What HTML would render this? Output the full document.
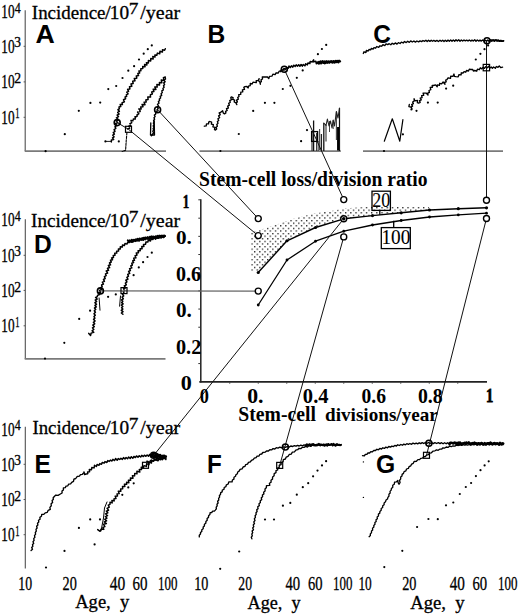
<!DOCTYPE html>
<html><head><meta charset="utf-8"><style>
html,body{margin:0;padding:0;background:#fff;width:520px;height:614px;overflow:hidden;}
svg{display:block;}
</style></head><body>
<svg width="520" height="614" viewBox="0 0 520 614">
<defs><pattern id="dp" x="254.0" y="240.75" width="5.2" height="5.2" patternUnits="userSpaceOnUse"><rect x="0" y="0" width="1.3" height="1.3" fill="#1a1a1a"/><rect x="2.6" y="2.6" width="1.3" height="1.3" fill="#1a1a1a"/></pattern></defs>
<rect width="520" height="614" fill="#fff"/>
<line x1="25.2" y1="10.3" x2="25.2" y2="151" stroke="#505050" stroke-width="1.1"/>
<line x1="24.7" y1="151.1" x2="166" y2="151.1" stroke="#7a7a7a" stroke-width="1.8"/>
<line x1="199.5" y1="151.1" x2="340.8" y2="151.1" stroke="#7a7a7a" stroke-width="1.8"/>
<line x1="363" y1="151.1" x2="503" y2="151.1" stroke="#7a7a7a" stroke-width="1.8"/>
<line x1="25.3" y1="219.3" x2="25.3" y2="358.9" stroke="#505050" stroke-width="1.1"/>
<line x1="24.7" y1="358.9" x2="165.5" y2="358.9" stroke="#7a7a7a" stroke-width="1.8"/>
<line x1="25.3" y1="426.8" x2="25.3" y2="568.5" stroke="#505050" stroke-width="1.1"/>
<line x1="200.8" y1="199.3" x2="200.8" y2="382.5" stroke="#222" stroke-width="1.5"/>
<line x1="199.3" y1="381.9" x2="487.0" y2="381.9" stroke="#222" stroke-width="1.9"/>
<line x1="198.3" y1="363.575" x2="200.5" y2="363.575" stroke="#333" stroke-width="1.0"/>
<line x1="198.3" y1="345.4" x2="200.5" y2="345.4" stroke="#333" stroke-width="1.0"/>
<line x1="198.3" y1="327.225" x2="200.5" y2="327.225" stroke="#333" stroke-width="1.0"/>
<line x1="198.3" y1="309.05" x2="200.5" y2="309.05" stroke="#333" stroke-width="1.0"/>
<line x1="198.3" y1="290.875" x2="200.5" y2="290.875" stroke="#333" stroke-width="1.0"/>
<line x1="198.3" y1="272.7" x2="200.5" y2="272.7" stroke="#333" stroke-width="1.0"/>
<line x1="198.3" y1="254.52499999999998" x2="200.5" y2="254.52499999999998" stroke="#333" stroke-width="1.0"/>
<line x1="198.3" y1="236.35" x2="200.5" y2="236.35" stroke="#333" stroke-width="1.0"/>
<line x1="198.3" y1="218.17499999999998" x2="200.5" y2="218.17499999999998" stroke="#333" stroke-width="1.0"/>
<line x1="198.3" y1="199.8" x2="200.8" y2="199.8" stroke="#333" stroke-width="1.0"/>
<line x1="229.75" y1="382" x2="229.75" y2="383.8" stroke="#444" stroke-width="0.9"/>
<line x1="258.25" y1="382" x2="258.25" y2="383.8" stroke="#444" stroke-width="0.9"/>
<line x1="286.75" y1="382" x2="286.75" y2="383.8" stroke="#444" stroke-width="0.9"/>
<line x1="315.25" y1="382" x2="315.25" y2="383.8" stroke="#444" stroke-width="0.9"/>
<line x1="343.75" y1="382" x2="343.75" y2="383.8" stroke="#444" stroke-width="0.9"/>
<line x1="372.25" y1="382" x2="372.25" y2="383.8" stroke="#444" stroke-width="0.9"/>
<line x1="400.75" y1="382" x2="400.75" y2="383.8" stroke="#444" stroke-width="0.9"/>
<line x1="429.25" y1="382" x2="429.25" y2="383.8" stroke="#444" stroke-width="0.9"/>
<line x1="457.75" y1="382" x2="457.75" y2="383.8" stroke="#444" stroke-width="0.9"/>
<line x1="23.6" y1="46.3" x2="25.2" y2="46.3" stroke="#555" stroke-width="1.0"/>
<line x1="23.6" y1="81.9" x2="25.2" y2="81.9" stroke="#555" stroke-width="1.0"/>
<line x1="23.6" y1="117.3" x2="25.2" y2="117.3" stroke="#555" stroke-width="1.0"/>
<line x1="23.6" y1="255.3" x2="25.2" y2="255.3" stroke="#555" stroke-width="1.0"/>
<line x1="23.6" y1="290.4" x2="25.2" y2="290.4" stroke="#555" stroke-width="1.0"/>
<line x1="23.6" y1="325.8" x2="25.2" y2="325.8" stroke="#555" stroke-width="1.0"/>
<line x1="23.6" y1="464.3" x2="25.2" y2="464.3" stroke="#555" stroke-width="1.0"/>
<line x1="23.6" y1="499.5" x2="25.2" y2="499.5" stroke="#555" stroke-width="1.0"/>
<line x1="23.6" y1="534.7" x2="25.2" y2="534.7" stroke="#555" stroke-width="1.0"/>
<polyline points="111.3,141.9 111.4,140.0 113.7,139.6 112.5,137.9 114.1,136.9 112.8,135.2 114.4,134.2 113.3,132.5 115.0,131.4 114.1,129.6 115.8,128.4 115.0,126.6 116.6,125.6 115.6,123.5 117.8,122.6 116.6,121.0 118.3,119.5 116.4,117.8 118.5,116.7 117.1,115.1 119.1,114.0 117.7,112.4 119.4,111.3 117.9,109.7 119.3,108.8 119.0,107.0 120.8,106.6 120.2,104.4 122.4,104.6 122.1,102.8 124.4,101.9 123.5,99.7 125.6,98.8 125.1,97.0 126.7,96.4 126.3,94.8 128.1,93.9 126.8,92.2 128.6,91.3 127.6,89.3 129.9,88.9 129.5,86.7 131.8,86.3 131.0,84.0 133.2,83.5 132.7,81.3 135.0,80.8 134.3,78.5 136.8,78.2 136.3,76.0 138.6,75.5 137.8,73.5 139.7,73.0 138.9,71.0 140.9,70.7 140.8,68.7 142.8,68.6 142.7,66.6 145.1,66.8 144.6,64.6 146.9,64.9 146.4,62.7 148.4,62.9 148.4,60.5 150.7,60.9 150.8,58.6 153.2,59.0 152.8,56.5 155.0,57.1 154.9,55.0 156.8,55.3 157.4,53.1 159.7,53.8 160.0,51.2 162.4,52.1 162.5,49.8 164.6,50.2 165.3,48.7" fill="none" stroke="#000" stroke-width="1.5" stroke-linejoin="round" stroke-linecap="round" />
<polyline points="127.6,128.9 129.6,128.2 128.7,126.3 130.7,125.5 129.9,123.7 131.7,122.8 131.0,120.4 133.1,120.9 133.4,118.9 135.7,119.1 135.0,116.8 137.3,116.7 136.9,114.9 139.1,114.2 137.6,112.1 140.2,111.5 139.7,109.8" fill="none" stroke="#000" stroke-width="1.5" stroke-linejoin="round" stroke-linecap="round" stroke-dasharray="2.5,1.6"/>
<polyline points="138.7,109.1 141.2,109.1 140.7,106.9 143.0,106.8 142.1,104.4 145.0,104.7 144.1,102.3 146.2,102.0 145.8,99.9 148.1,99.5 147.8,97.0 150.5,97.1 150.4,94.6 152.4,94.0 151.7,92.0 153.9,91.6 153.2,89.3 155.9,89.5 154.8,86.9 157.2,87.1 156.9,84.5 159.5,85.0 159.4,82.6 161.9,82.8 161.3,80.0 164.3,80.4 163.4,77.7 165.3,77.0" fill="none" stroke="#000" stroke-width="1.5" stroke-linejoin="round" stroke-linecap="round" />
<polyline points="151.4,135.8 152.7,134.0 153.7,132.7 152.8,131.3 153.8,130.0 153.1,128.6 154.0,127.3 153.2,125.9 154.1,124.6 153.4,123.2 154.1,122.0 153.6,120.5 154.6,119.3 154.0,117.8 155.1,116.6 154.3,115.0 155.7,114.1 155.7,112.3 157.2,111.4 157.1,109.8 158.2,108.5 157.4,107.1 158.5,106.0 157.5,104.3 159.0,103.2 158.4,101.6 159.6,100.5 159.3,99.0 160.6,98.0 160.2,96.4 161.7,95.4 161.1,93.7 162.3,92.6 161.8,90.9 163.4,90.0 162.9,88.4 164.1,87.2 163.5,85.7 164.6,84.5 163.7,82.9 165.2,81.8 164.2,80.3 165.5,79.1 165.3,77.7" fill="none" stroke="#000" stroke-width="1.4" stroke-linejoin="round" stroke-linecap="round" />
<polyline points="150.8,123.0 150.5,135.0 154.5,135.0 154.2,121.0" fill="none" stroke="#000" stroke-width="1.3" stroke-linejoin="round" stroke-linecap="round" />
<polyline points="126.9,132.7 126.2,141.0 125.6,150.2 122.2,151.5" fill="none" stroke="#000" stroke-width="1.1" stroke-linejoin="round" stroke-linecap="round" stroke-dasharray="2.2,1.3"/>
<polyline points="105.4,141.4 110.8,141.4" fill="none" stroke="#000" stroke-width="0.9" stroke-linejoin="round" stroke-linecap="round" />
<circle cx="45.6" cy="151.2" r="1.1" fill="#000"/>
<circle cx="64.8" cy="134.2" r="1.1" fill="#000"/>
<circle cx="78.8" cy="110.8" r="1.1" fill="#000"/>
<circle cx="90.4" cy="102.9" r="1.1" fill="#000"/>
<circle cx="100.2" cy="102.6" r="1.1" fill="#000"/>
<circle cx="108.3" cy="89.1" r="1.1" fill="#000"/>
<circle cx="116.2" cy="86" r="1.1" fill="#000"/>
<circle cx="122.5" cy="78" r="1.1" fill="#000"/>
<circle cx="128.3" cy="70.7" r="1.1" fill="#000"/>
<circle cx="134.1" cy="66.2" r="1.1" fill="#000"/>
<circle cx="139" cy="59.5" r="1.1" fill="#000"/>
<circle cx="143.7" cy="53.7" r="1.1" fill="#000"/>
<circle cx="147.8" cy="49.2" r="1.1" fill="#000"/>
<circle cx="151.8" cy="45.4" r="1.1" fill="#000"/>
<circle cx="105.4" cy="141.4" r="1.1" fill="#000"/>
<circle cx="118.8" cy="141.4" r="1.1" fill="#000"/>
<polyline points="204.3,126.2 206.2,125.9 206.5,123.9 208.5,123.8 208.8,121.8 209.9,121.5 211.6,122.2 211.4,124.2 213.4,124.7 212.9,126.8 214.9,127.3 214.5,129.4 215.2,130.1 216.7,129.0 216.0,127.3 217.4,126.2 216.8,124.5 218.0,123.3 217.4,121.6 218.7,120.5 217.9,118.8 219.6,117.7 218.6,115.9 220.3,114.8 219.1,113.0 220.5,112.5 222.6,110.7 223.2,112.9 224.5,113.9 225.9,113.0 225.6,111.3 227.2,110.5 226.5,108.7 228.4,108.0 227.7,106.2 229.4,105.2 228.7,103.4 230.3,102.3 229.7,100.6 231.6,99.7 230.7,97.8 231.3,96.9 233.1,97.6 232.8,99.4 234.6,100.2 234.2,102.0 236.0,102.8 236.8,104.6 235.9,102.9 237.4,101.9 236.5,100.1 238.4,99.2 237.7,97.5 239.0,96.5 238.7,94.7 240.7,94.4 240.8,92.2 242.8,91.8 242.4,89.9 244.5,89.3 243.8,87.3 244.9,86.7 246.7,86.4 248.2,87.9 248.4,86.2 250.2,85.7 250.3,83.4 252.1,84.0 253.0,82.2 256.3,82.6 256.2,80.6 258.3,80.4 259.1,78.7 258.5,80.7 260.0,82.1 260.4,84.2 259.9,82.5 261.4,81.6 261.0,79.9 262.5,79.0 262.3,76.8 265.0,77.0 267.1,76.8 268.8,78.6 269.5,76.3 271.9,76.2 272.9,74.2 275.1,74.6 276.1,72.8 278.3,73.0 279.0,71.4 280.4,70.9" fill="none" stroke="#000" stroke-width="1.35" stroke-linejoin="round" stroke-linecap="round" />
<polyline points="280.7,71.6 281.5,69.8 283.2,70.3 283.9,68.5 285.8,69.2 286.4,67.4 288.3,68.3 289.0,66.1 290.4,67.4 291.4,65.8 292.8,67.1 293.8,65.2 295.2,66.4 296.2,64.9 297.6,66.1 298.7,64.7 299.9,66.2 301.1,64.5 302.3,66.1 303.2,64.5 305.0,65.8 305.7,63.8 307.4,64.9 307.9,63.1 309.9,63.5 310.2,61.4 312.3,61.9 313.6,59.9 313.7,61.9 315.8,61.3 316.3,63.7 317.5,62.0 318.7,63.9 319.9,62.3 321.2,63.7 322.6,61.8 324.3,63.6 325.7,61.9 327.1,62.9 328.3,61.5 329.7,62.6 330.9,61.3 332.2,62.3 333.5,60.9 334.9,62.5 336.1,60.6 337.6,62.0 338.8,60.5 340.2,61.3" fill="none" stroke="#000" stroke-width="1.5" stroke-linejoin="round" stroke-linecap="round" />
<polyline points="318.0,63.3 318.9,61.7 319.9,63.4 320.7,61.2 321.7,62.9 322.6,61.1 323.6,62.9 324.4,61.3 325.4,63.2 326.3,61.1 327.3,62.7 328.1,61.2 329.1,62.8 330.0,61.2 331.0,62.5 331.8,61.1 332.8,62.7 333.7,61.2 334.7,62.6 335.5,60.9 336.5,62.2 337.4,60.9 338.4,62.5 339.2,60.7 340.2,61.5" fill="none" stroke="#000" stroke-width="2.0" stroke-linejoin="round" stroke-linecap="round" />
<line x1="312.0" y1="151" x2="312.0" y2="131" stroke="#222" stroke-width="1.1"/>
<line x1="313.6" y1="151" x2="313.6" y2="120.5" stroke="#111" stroke-width="1.3"/>
<line x1="316.6" y1="151" x2="316.6" y2="133" stroke="#333" stroke-width="1.1"/>
<line x1="318.2" y1="151" x2="318.2" y2="141" stroke="#333" stroke-width="1.0"/>
<line x1="319.6" y1="150" x2="319.6" y2="129" stroke="#444" stroke-width="1.1"/>
<line x1="321.4" y1="151" x2="321.4" y2="134" stroke="#222" stroke-width="1.3"/>
<line x1="323.8" y1="151" x2="323.8" y2="123" stroke="#111" stroke-width="1.3"/>
<line x1="326.0" y1="141.6" x2="326.0" y2="125" stroke="#333" stroke-width="1.1"/>
<line x1="329.5" y1="132" x2="329.5" y2="121" stroke="#444" stroke-width="1.0"/>
<line x1="333.2" y1="129" x2="333.2" y2="120" stroke="#444" stroke-width="1.0"/>
<line x1="336.4" y1="140" x2="336.4" y2="111.5" stroke="#444" stroke-width="1.1"/>
<line x1="338.2" y1="150.5" x2="338.2" y2="127" stroke="#000" stroke-width="2.3"/>
<line x1="339.5" y1="151" x2="339.5" y2="108" stroke="#111" stroke-width="1.2"/>
<polyline points="323.8,123.0 326.0,125.5 327.4,119.0 329.0,126.0 330.5,121.0 332.0,128.0 333.2,120.0 334.5,126.0 336.4,111.5 338.0,118.0 339.5,108.0" fill="none" stroke="#222" stroke-width="1.1" stroke-linejoin="round" stroke-linecap="round" />
<rect x="311.6" y="131.6" width="6" height="9.8" fill="none" stroke="#000" stroke-width="1.3"/>
<circle cx="220.4" cy="151" r="1.1" fill="#000"/>
<circle cx="238.8" cy="134" r="1.1" fill="#000"/>
<circle cx="253.2" cy="110.9" r="1.1" fill="#000"/>
<circle cx="264.9" cy="102.8" r="1.1" fill="#000"/>
<circle cx="274.4" cy="102.8" r="1.1" fill="#000"/>
<circle cx="282.8" cy="89" r="1.1" fill="#000"/>
<circle cx="290.4" cy="85.8" r="1.1" fill="#000"/>
<circle cx="296.8" cy="77.8" r="1.1" fill="#000"/>
<circle cx="302.7" cy="70.4" r="1.1" fill="#000"/>
<circle cx="317.9" cy="54.2" r="1.1" fill="#000"/>
<circle cx="321.9" cy="49" r="1.1" fill="#000"/>
<circle cx="326.2" cy="44.9" r="1.1" fill="#000"/>
<circle cx="301.1" cy="141.2" r="1.1" fill="#000"/>
<circle cx="307" cy="130.1" r="1.1" fill="#000"/>
<polyline points="363.3,53.5 364.0,51.8 365.9,52.5 366.4,50.5 368.2,51.0 369.0,49.5 370.6,49.9 371.4,48.4 373.1,49.1 374.0,47.7 375.6,48.2 376.7,46.5 378.7,47.4 379.8,45.8 381.6,46.2 382.9,44.7 384.8,45.6 386.0,43.9 387.7,44.6 389.2,43.7 390.8,44.7 392.2,43.3 393.8,44.2 395.3,42.9 397.0,44.1 398.4,42.6 400.1,43.5 401.4,42.1 403.2,43.0 404.5,41.5 406.2,42.6 407.7,41.3 409.3,42.4 410.7,40.9 412.3,42.0 413.9,41.0 415.4,42.1 416.9,41.0 418.6,41.9 420.0,40.9 421.6,41.6 423.0,40.5 424.6,41.3 425.9,40.3 427.2,41.5 428.5,40.3 429.9,41.4 431.2,40.3 432.5,41.3 433.8,40.4 435.4,41.3 436.9,40.4 438.4,41.5 440.0,40.2 441.3,41.3 442.7,40.2 444.0,41.5 445.3,40.3 446.7,41.4 448.0,40.1 449.3,41.3 450.7,39.9 452.0,41.2 453.3,40.0 454.7,41.3 456.0,39.8 457.3,41.1 458.7,39.8 460.0,41.2 461.3,39.9 462.7,41.1 464.0,40.0 465.3,40.9 466.7,40.1 468.0,41.0 469.3,39.9 470.7,41.1 472.0,40.1 473.3,41.0 474.7,39.8 476.0,41.3 477.3,39.9 478.7,41.1 480.0,40.1 481.3,41.1 482.6,40.0 483.9,41.1 485.2,40.1 486.5,41.2 487.8,39.9 489.1,41.5 490.4,40.1 491.7,41.2 493.1,39.9 494.4,41.2 495.7,40.2 497.0,41.1 498.3,40.2 499.6,41.4 500.9,40.2 502.2,41.3 503.5,40.8" fill="none" stroke="#000" stroke-width="1.35" stroke-linejoin="round" stroke-linecap="round" />
<polyline points="490.0,40.8 491.0,40.0 492.1,40.4 493.1,40.1 494.2,40.6 495.2,40.1 496.2,40.0 497.3,40.5 498.3,40.4 499.3,40.9 500.4,40.8 501.4,41.2 502.5,41.1 503.5,40.8" fill="none" stroke="#000" stroke-width="1.8" stroke-linejoin="round" stroke-linecap="round" />
<polyline points="409.3,104.5 408.9,106.7 411.0,107.1 412.0,108.8 410.9,107.2 412.6,106.2 411.6,104.6 413.4,103.6 412.6,102.0 414.2,101.0 414.1,98.7 414.9,100.9 417.4,100.4 417.4,102.7 418.6,103.1 420.2,102.3 419.4,100.6 421.3,99.9 420.2,98.1 422.1,97.6 421.6,95.6 423.7,95.3 423.1,93.2 424.0,93.1 426.4,93.2 428.0,95.0 427.8,93.2 429.4,92.3 429.0,90.5 430.8,89.6 430.2,87.4 432.3,87.4 432.2,85.3 433.5,85.5 435.6,84.9 437.2,86.7 437.4,84.9 439.4,85.3 439.7,83.3 441.6,83.9 443.1,82.0 445.0,84.2 444.4,82.5 446.2,81.8 445.7,80.2 446.9,79.7 448.1,77.8 450.5,78.3 450.7,76.2 453.0,76.3 454.0,74.0 454.4,76.3 455.9,76.6 458.2,76.8 459.0,74.6 461.1,74.9 461.3,72.8 463.0,73.0 464.1,71.6 465.7,72.2 466.5,70.5 468.5,71.0 469.3,69.2 470.8,69.5 472.6,69.4 473.4,71.0 474.7,70.5 476.7,71.2 477.4,69.1 479.3,69.7 480.3,67.8 481.8,68.9 483.0,67.4 484.5,68.3 485.6,66.7 487.2,67.9 488.6,66.2 489.7,68.1 491.2,67.0 492.4,68.3 493.6,67.0 495.4,68.3 496.3,66.5 498.0,67.3 499.3,65.9 500.7,67.6 502.6,67.1" fill="none" stroke="#000" stroke-width="1.35" stroke-linejoin="round" stroke-linecap="round" />
<polyline points="384.3,141.2 392.3,118.8 399.8,141.2 402.9,119.6" fill="none" stroke="#000" stroke-width="1.2" stroke-linejoin="round" stroke-linecap="round" />
<circle cx="384" cy="151" r="1.1" fill="#000"/>
<circle cx="402.9" cy="134.3" r="1.1" fill="#000"/>
<circle cx="411.4" cy="109.5" r="1.1" fill="#000"/>
<circle cx="416.5" cy="110.8" r="1.1" fill="#000"/>
<circle cx="427.9" cy="102.6" r="1.1" fill="#000"/>
<circle cx="437.7" cy="102.6" r="1.1" fill="#000"/>
<circle cx="446.1" cy="88.6" r="1.1" fill="#000"/>
<circle cx="453.2" cy="85.7" r="1.1" fill="#000"/>
<circle cx="475.8" cy="59.5" r="1.1" fill="#000"/>
<circle cx="480.4" cy="53.8" r="1.1" fill="#000"/>
<circle cx="484.5" cy="49.2" r="1.1" fill="#000"/>
<circle cx="488.1" cy="45.4" r="1.1" fill="#000"/>
<polyline points="88.8,333.4 90.6,335.4 91.1,333.1 93.7,332.4 92.1,330.8 93.8,329.5 92.5,327.9 94.3,326.7 92.8,325.1 94.7,323.8 93.4,322.3 95.1,321.0 93.6,319.4 94.9,318.1 94.0,316.6 95.3,315.2 94.0,313.7 95.4,312.3 94.3,310.8 95.7,309.5 94.5,308.0 96.3,306.9 95.0,305.4 96.5,304.3 94.9,302.7 96.6,301.6 95.2,300.1 97.2,299.0 95.6,297.5 97.0,296.9 97.7,295.2 99.5,294.6 98.4,292.7 100.6,292.2 99.7,290.5 101.5,289.5 100.6,287.8 102.2,286.7 101.6,285.0 103.4,284.1 102.4,282.2 104.4,281.4 103.5,279.4 105.2,278.5 104.4,276.6 106.2,275.7 105.5,273.9 107.6,273.1 106.3,271.0 108.5,270.3 107.5,268.3 109.6,267.6 108.4,265.5 110.5,264.8 109.5,262.8 111.3,262.1 110.5,260.3 112.5,259.7 111.6,257.9 113.5,257.5 113.2,255.5 115.0,255.2 114.7,253.2 116.7,253.1 116.6,251.2 118.6,251.0 118.4,249.1 120.3,249.1 120.3,246.8 122.3,247.1 122.5,245.1 124.4,245.5 125.0,243.5 127.0,244.1 127.7,242.2 129.4,242.6 130.7,241.1 132.6,242.2 133.7,240.2 135.6,241.2 136.5,239.3 138.5,240.7 139.3,238.6 141.1,239.5 142.2,237.9 143.8,238.8 145.0,237.4 146.5,238.4 147.7,237.1 149.2,238.1 150.5,236.6 152.0,238.3 153.3,236.4 154.8,237.9 156.0,236.4 157.6,237.7 158.9,236.1 160.5,237.3 161.8,236.0 163.4,237.0 164.8,236.2" fill="none" stroke="#000" stroke-width="1.5" stroke-linejoin="round" stroke-linecap="round" />
<polyline points="127.8,240.3 129.1,242.0 129.9,240.3 131.2,242.0 131.8,239.7 133.1,241.4 133.9,239.7 135.1,241.1 135.9,239.3 137.1,240.8 137.8,238.7 139.2,240.7 139.8,238.4 141.1,239.9 141.9,238.5 143.2,240.0 143.8,237.7 145.1,239.5 145.8,237.5 147.1,238.9 147.9,237.3 149.2,239.1 149.9,236.7 151.1,238.8 151.9,236.4 153.1,238.2 153.9,236.7 155.1,237.9 155.9,236.2 157.1,238.0 157.9,235.7 159.1,237.7 159.9,235.6 161.1,237.5 161.9,235.5 163.1,237.2 163.9,235.5 165.0,236.0" fill="none" stroke="#000" stroke-width="2.0" stroke-linejoin="round" stroke-linecap="round" />
<polyline points="99.1,298.0 100.0,310.2" fill="none" stroke="#000" stroke-width="1.0" stroke-linejoin="round" stroke-linecap="round" />
<polyline points="122.9,314.3 121.4,313.0 123.0,311.7 121.3,310.4 122.8,309.1 121.6,307.8 122.8,306.5 121.4,305.2 123.1,303.9 121.7,302.6 122.8,301.3 121.6,299.9 123.3,298.8 122.1,297.1 123.7,296.0 122.5,294.4 124.1,293.2 123.2,291.7 124.8,290.6 123.5,288.7 125.6,287.7 124.3,285.9 126.3,284.9 125.4,283.1 126.9,282.0 125.8,280.1 127.9,279.2 126.9,277.3 128.5,276.2 127.7,274.4 129.7,273.4 128.6,271.4 130.4,270.5 129.6,268.6 131.8,267.9 130.8,266.0 132.4,265.0 131.8,263.3 133.6,262.6 132.7,260.8 134.5,260.2 133.7,258.3 135.9,257.8 135.1,255.8 137.0,255.1 136.3,252.9 138.5,252.8 138.1,250.8 140.2,250.7 140.1,248.8 142.1,248.7 141.8,246.6 143.9,246.6 143.5,244.4 145.6,244.2 145.9,242.1 147.8,242.0 148.4,240.0 150.5,241.0 151.1,238.9 152.8,239.5 154.0,237.9 155.6,239.2 156.7,237.5 158.3,238.3 159.5,237.0 161.1,237.9 162.0,235.9 163.7,237.4 164.8,236.2" fill="none" stroke="#000" stroke-width="1.5" stroke-linejoin="round" stroke-linecap="round" />
<polyline points="119.6,306.2 120.5,296.0" fill="none" stroke="#000" stroke-width="1.0" stroke-linejoin="round" stroke-linecap="round" />
<circle cx="45" cy="358.6" r="1.1" fill="#000"/>
<circle cx="64.3" cy="342.8" r="1.1" fill="#000"/>
<circle cx="79.2" cy="318.9" r="1.1" fill="#000"/>
<circle cx="90.1" cy="310.7" r="1.1" fill="#000"/>
<circle cx="108.1" cy="296.8" r="1.1" fill="#000"/>
<circle cx="115.8" cy="294.4" r="1.1" fill="#000"/>
<circle cx="133.6" cy="275.2" r="1.1" fill="#000"/>
<circle cx="138.8" cy="267.4" r="1.1" fill="#000"/>
<circle cx="143.1" cy="262.2" r="1.1" fill="#000"/>
<circle cx="147.5" cy="257" r="1.1" fill="#000"/>
<circle cx="151.8" cy="252.7" r="1.1" fill="#000"/>
<polyline points="31.1,550.5 32.5,549.3 31.7,547.5 32.9,546.3 32.5,544.6 33.7,543.4 33.0,541.7 34.1,540.4 33.7,538.6 34.9,537.3 34.5,535.6 35.6,534.2 35.3,532.5 36.3,531.1 36.0,529.4 37.1,528.0 36.6,526.3 37.9,525.0 37.5,523.3 38.8,522.1 38.5,520.3 40.1,519.3 39.9,517.4 41.5,516.3 41.7,514.4 43.8,514.4 45.2,512.9 47.3,512.3 48.2,510.3 50.3,509.4 49.9,507.4 51.3,505.8 51.1,503.8 52.6,502.4 52.1,500.6 53.3,499.4 53.2,497.8 54.1,496.7 55.8,495.1 58.1,495.3 60.4,494.0 62.1,493.0 62.0,491.1 63.4,489.9 63.4,487.8 65.3,487.7 66.0,486.1 67.8,485.8 68.7,484.1 70.6,483.8 71.7,482.3 73.5,481.4 73.9,479.2 75.8,478.5 77.1,476.5 79.4,476.2 80.5,474.6 82.4,474.3 83.6,472.9" fill="none" stroke="#000" stroke-width="1.35" stroke-linejoin="round" stroke-linecap="round" />
<polyline points="84.0,472.0 84.6,474.5 86.0,474.0 87.8,473.7 87.6,471.9 89.6,471.7 89.3,469.5 91.5,469.7 91.8,467.5 94.1,467.9 94.5,465.3 96.4,466.5 97.1,464.4 98.9,465.3 99.8,463.6 101.5,464.3 102.3,462.4 104.1,463.2 105.0,461.6 106.9,462.5 107.8,460.6 109.3,461.4 110.4,460.1 112.0,461.0 112.9,459.3 114.5,460.6 115.6,458.5 117.2,460.3 118.3,458.5 119.7,459.5 120.9,458.3 122.4,459.4 123.5,457.6 125.0,459.0 126.1,457.5 127.6,458.7 128.7,457.0 130.2,458.5 131.3,456.7 132.8,458.3 133.9,456.4 135.4,457.6 136.5,455.9 138.0,457.3 139.2,455.7 140.7,457.0 141.8,455.3 143.3,456.6 144.4,455.2 145.9,456.3 147.1,454.9 148.5,456.3 149.6,454.5 151.1,455.9 152.2,454.4 153.5,456.0 155.0,454.3 156.2,455.8 157.6,454.4 158.8,456.2 160.3,454.5 161.5,456.2 163.2,455.2 164.3,457.0 165.9,456.3" fill="none" stroke="#000" stroke-width="1.45" stroke-linejoin="round" stroke-linecap="round" />
<polyline points="97.7,529.6 100.1,531.3 101.2,529.0 103.8,529.4 102.9,527.4 104.9,526.6 103.6,524.3 106.4,523.5 104.3,521.9 106.6,520.9 104.7,519.3 107.0,518.2 105.4,516.6 107.6,515.7 105.5,513.8 107.8,512.8 106.3,511.1 108.6,510.2 107.1,508.4 109.3,507.2 108.3,505.1 110.0,504.3 110.0,502.3 112.2,502.9 111.9,500.5 114.2,500.9 113.9,498.9 116.0,498.5 115.2,496.2 117.5,496.0 117.0,493.9 119.2,493.6 118.3,491.3 120.9,491.3 120.6,489.0 122.7,488.7 122.5,486.4 124.9,486.5 124.4,484.1 126.7,484.3 126.6,482.3 128.9,482.7 128.4,480.3 130.7,480.3 130.4,478.0 133.0,478.2 132.4,475.7 134.6,475.9 134.7,473.4 137.0,473.8 136.9,471.2 139.8,472.0 139.3,469.4 141.5,469.6 141.2,467.2 143.4,467.7 144.0,465.6 146.4,466.4 146.6,463.7 149.0,464.7 149.0,462.1 151.5,463.0 151.6,460.3 153.6,461.3 154.2,459.4 156.1,460.3 156.6,457.8 158.5,459.7 159.4,457.5 161.1,458.9 162.0,456.7 162.8,457.9 165.2,457.9 165.9,459.6" fill="none" stroke="#000" stroke-width="1.45" stroke-linejoin="round" stroke-linecap="round" />
<polyline points="101.0,531.0 103.5,518.0 104.5,508.0 107.0,502.0" fill="none" stroke="#000" stroke-width="1.0" stroke-linejoin="round" stroke-linecap="round" />
<polyline points="150.0,455.0 150.8,455.6 151.5,456.6 152.5,454.7 153.2,455.7 154.0,456.5 154.7,456.9 155.6,455.1 156.5,455.0 157.1,457.0 157.9,457.1 158.8,456.0 159.7,455.0 160.3,457.2 161.2,455.9 161.9,457.2 162.8,456.6 163.6,457.1 164.5,455.6 165.2,457.1 166.0,456.5" fill="none" stroke="#000" stroke-width="2.2" stroke-linejoin="round" stroke-linecap="round" />
<ellipse cx="155" cy="455.3" rx="4.2" ry="2.8" fill="#000"/>
<polyline points="146.9,461.3 147.9,461.6 149.0,462.4 149.9,462.2 150.5,460.5 151.4,460.4 152.4,460.6 153.3,460.7 154.2,460.2 155.0,459.4 155.9,459.5 157.1,460.4 158.1,460.6 158.5,458.4 159.7,459.5 160.7,459.7 161.2,457.9 162.5,459.6 163.1,457.7 164.2,458.6 165.1,458.3 166.0,458.0" fill="none" stroke="#000" stroke-width="1.6" stroke-linejoin="round" stroke-linecap="round" />
<circle cx="46" cy="567.5" r="1.1" fill="#000"/>
<circle cx="64.5" cy="550.9" r="1.1" fill="#000"/>
<circle cx="78.9" cy="527.9" r="1.1" fill="#000"/>
<circle cx="90.2" cy="519.4" r="1.1" fill="#000"/>
<circle cx="94.6" cy="544.4" r="1.1" fill="#000"/>
<circle cx="100" cy="519.4" r="1.1" fill="#000"/>
<circle cx="122.3" cy="494.8" r="1.1" fill="#000"/>
<circle cx="128.3" cy="487.4" r="1.1" fill="#000"/>
<circle cx="133.7" cy="483.3" r="1.1" fill="#000"/>
<polyline points="199.3,536.9 199.3,535.2 200.5,534.1 200.5,532.5 201.8,531.4 201.8,529.7 203.2,528.7 203.2,527.1 204.4,526.0 204.4,524.3 205.8,523.2 205.9,521.5 207.2,520.3 207.1,518.5 208.5,517.4 208.6,515.7 209.9,514.5 210.1,512.7 211.7,512.5 212.7,511.2 214.4,511.1 215.3,510.1 216.4,508.8 216.2,507.2 217.2,505.9 217.0,504.3 218.1,503.0 217.6,501.3 218.8,500.1 218.6,498.4 219.6,497.1 219.4,495.5 220.5,494.4 220.7,492.7 222.2,491.8 222.3,490.0 224.0,489.3 224.2,487.5 225.9,486.6 226.4,484.8 228.2,484.0 228.8,481.9 232.1,481.8 232.4,480.0 233.9,479.1 234.0,477.3 235.5,476.3 235.9,474.7 237.4,473.7 237.7,472.0 239.1,471.2 240.1,469.4 242.1,468.8 243.1,467.0 244.9,466.4 245.7,464.6 247.5,464.1 248.5,462.4 250.4,461.9 251.4,460.3 253.2,459.7 254.3,458.2 256.1,457.6 257.1,456.1 259.0,456.0 259.9,454.3 261.7,454.0 262.8,452.5 265.1,452.2 266.5,450.9 268.4,451.0 269.8,449.7 271.6,449.9 273.0,448.6 274.8,449.0 276.3,447.7 278.0,448.1 279.8,447.1 281.7,447.8 283.5,446.9 285.4,447.4 287.2,446.5 289.1,447.1 290.8,446.0 292.7,446.5 294.3,445.6 296.0,446.2 297.5,445.4 299.2,446.0 300.8,445.1 302.5,445.8 304.1,444.9 305.7,445.6 307.3,444.6 309.0,445.4 310.6,444.5 312.2,445.2 313.9,444.5 315.5,445.0 317.1,444.4 318.8,445.1 320.4,444.2 322.0,445.0 323.7,444.1 325.3,444.9 326.9,444.3 328.6,445.0 330.2,444.3 331.7,444.9 333.2,444.3 334.7,445.0 336.3,444.4 337.8,445.1 339.3,444.5 340.8,444.9" fill="none" stroke="#000" stroke-width="1.35" stroke-linejoin="round" stroke-linecap="round" />
<polyline points="306.0,445.1 306.9,444.3 307.8,445.1 308.8,444.8 309.7,444.2 310.6,445.8 311.5,444.4 312.4,444.2 313.4,444.1 314.3,445.2 315.2,445.6 316.1,445.5 317.1,444.7 318.0,444.4 318.9,443.9 319.8,445.2 320.7,445.0 321.7,444.6 322.6,445.2 323.5,444.8 324.4,445.8 325.3,445.4 326.3,444.4 327.2,445.7 328.1,444.0 329.0,445.0 329.9,444.7 330.9,444.4 331.8,444.0 332.7,445.5 333.6,443.9 334.6,445.0 335.5,445.8 336.4,444.2 337.3,444.3 338.2,445.1 339.2,444.9 340.1,445.2 341.0,444.9" fill="none" stroke="#000" stroke-width="2.0" stroke-linejoin="round" stroke-linecap="round" />
<polyline points="251.9,538.9 251.3,537.2 252.3,535.8 251.8,534.1 252.7,532.7 252.1,531.1 253.5,529.7 252.7,528.0 253.8,526.6 253.2,524.9 254.5,523.6 253.8,521.9 255.0,520.5 254.3,518.8 255.4,517.4 255.1,515.7 256.2,514.4 256.0,512.8 257.1,511.5 256.7,509.7 258.1,508.6 257.7,506.7 259.3,505.6 259.0,503.8 260.4,502.6 260.2,500.7 261.7,499.6 261.3,497.8 262.6,496.7 262.4,495.0 263.9,493.9 263.6,492.2 265.1,490.9 265.0,489.0 266.3,487.7 266.5,485.6 269.8,485.3 269.4,483.3 271.1,482.2 271.0,480.2 272.5,479.1 272.6,477.0 274.1,475.7 274.2,473.6 276.0,472.6 276.0,470.7 277.7,469.9 277.6,468.0 279.3,467.3 279.2,465.4 281.1,464.6 281.2,462.5 283.1,461.7 283.3,459.6 285.4,459.0 286.2,457.1 288.0,456.3 289.2,454.5 291.2,454.1 292.4,452.2 294.5,451.9 295.8,450.2 297.7,449.7 299.0,448.3 301.0,448.6 302.4,447.3 304.1,447.3 305.7,446.4 307.4,447.0 308.9,445.7 310.7,446.4 312.2,445.2 313.9,445.7 315.5,444.9 317.2,445.7 318.8,444.7 320.4,445.7 322.0,444.5 323.7,445.3 325.3,444.4 326.9,445.5 328.4,444.3 330.0,445.2 331.5,444.5 333.1,445.2 334.6,444.6 336.2,445.5 337.7,444.4 339.3,445.4 340.8,444.9" fill="none" stroke="#000" stroke-width="1.35" stroke-linejoin="round" stroke-linecap="round" />
<circle cx="220.2" cy="568.8" r="1.1" fill="#000"/>
<circle cx="239.2" cy="551.5" r="1.1" fill="#000"/>
<circle cx="265" cy="519.5" r="1.1" fill="#000"/>
<circle cx="274" cy="519.5" r="1.1" fill="#000"/>
<circle cx="282.9" cy="505.7" r="1.1" fill="#000"/>
<circle cx="290.3" cy="502.9" r="1.1" fill="#000"/>
<circle cx="296.8" cy="494.7" r="1.1" fill="#000"/>
<circle cx="302.8" cy="487.2" r="1.1" fill="#000"/>
<circle cx="308.2" cy="483.2" r="1.1" fill="#000"/>
<circle cx="313.1" cy="476.3" r="1.1" fill="#000"/>
<circle cx="317.5" cy="470.6" r="1.1" fill="#000"/>
<circle cx="322" cy="465.4" r="1.1" fill="#000"/>
<circle cx="326.1" cy="461.2" r="1.1" fill="#000"/>
<polyline points="362.5,455.7 364.4,455.9 365.3,454.4 366.9,454.3 367.9,453.0 369.6,453.0 370.8,451.6 372.5,451.8 373.8,450.4 375.5,450.5 376.8,449.3 378.5,449.7 379.8,448.4 381.5,449.0 382.8,447.8 384.5,448.4 385.8,447.1 387.5,447.8 388.8,446.5 390.5,447.1 391.8,446.1 393.5,446.6 394.8,445.4 396.4,446.0 397.7,444.8 399.4,445.5 400.8,444.5 402.4,445.2 403.8,444.1 405.4,444.8 406.8,443.7 408.4,444.3 409.9,443.5 411.5,444.3 413.0,443.1 414.7,443.9 416.2,443.1 417.7,443.9 419.2,442.8 420.7,443.6 422.2,442.7 423.7,443.5 425.3,442.6 426.8,443.5 428.4,442.5 430.0,443.5 431.6,442.7 433.3,443.6 434.9,442.7 436.6,443.5 438.3,442.7 440.0,443.6 441.5,442.7 443.1,443.8 444.6,442.7 446.2,443.7 447.7,442.8 449.2,443.6 450.8,442.7 452.3,443.7 453.8,442.8 455.4,443.6 456.9,442.7 458.5,443.4 460.0,442.6 461.5,443.6 463.1,442.5 464.6,443.4 466.2,442.4 467.7,443.4 469.2,442.6 470.8,443.5 472.3,442.5 473.8,443.5 475.4,442.5 476.9,443.4 478.5,442.6 480.0,443.3 481.6,442.5 483.1,443.5 484.7,442.5 486.2,443.4 487.8,442.6 489.3,443.6 490.9,442.6 492.4,443.4 494.0,442.7 495.5,443.7 497.1,442.8 498.6,443.5 500.2,442.8 501.7,443.7 503.3,443.2" fill="none" stroke="#000" stroke-width="1.35" stroke-linejoin="round" stroke-linecap="round" />
<polyline points="449.5,444.4 450.3,442.6 451.1,442.6 451.9,442.8 452.7,443.1 453.5,443.6 454.3,442.6 455.1,443.1 455.9,442.7 456.7,444.7 457.5,444.1 458.3,442.5 459.1,444.7 459.9,442.5 460.7,443.2 461.5,444.8 462.3,444.3 463.1,444.1 464.0,443.4 464.8,442.7 465.6,443.9 466.4,442.5 467.2,442.8 468.0,443.2 468.8,442.3 469.6,443.3 470.4,444.3 471.2,444.0 472.0,443.5 472.8,443.9 473.6,443.4 474.4,442.6 475.2,443.8 476.0,443.3 476.8,444.2 477.6,444.6 478.4,443.4 479.2,443.7 480.0,444.2 480.8,443.4 481.6,442.9 482.4,444.1 483.2,444.6 484.0,444.3 484.8,444.1 485.6,444.5 486.4,444.0 487.2,443.9 488.0,443.5 488.8,443.1 489.6,443.9 490.5,442.5 491.3,443.4 492.1,444.3 492.9,444.1 493.7,443.9 494.5,442.9 495.3,443.4 496.1,443.5 496.9,443.9 497.7,443.4 498.5,444.0 499.3,444.7 500.1,442.8 500.9,444.0 501.7,444.3 502.5,443.3 503.3,443.6" fill="none" stroke="#000" stroke-width="2.4" stroke-linejoin="round" stroke-linecap="round" />
<polyline points="369.1,536.7 370.4,535.6 370.3,533.9 371.5,532.7 371.5,531.1 372.7,530.0 372.5,528.2 373.9,527.1 373.8,525.5 375.0,524.3 374.9,522.6 376.2,521.5 376.0,519.8 377.4,518.7 377.1,517.0 378.5,515.9 378.4,514.1 379.8,513.1 379.9,511.4 381.2,510.3 381.2,508.5 382.7,507.5 382.7,505.8 384.1,504.7 384.1,502.9 385.5,501.8 386.0,500.1 387.5,499.0 387.9,497.3 389.0,496.0 388.9,494.3 390.2,493.1 390.0,491.4 391.2,490.1 391.4,488.4 392.8,487.2 392.7,485.3 394.3,484.2 394.5,482.2 396.4,481.9 397.8,480.4 398.1,482.6 399.0,484.3 400.1,482.5 399.5,480.5 400.7,478.9 400.7,477.1 402.0,476.1 402.1,474.4 403.5,473.4 404.1,471.6 405.9,470.9 406.5,469.0 408.4,468.4 409.1,466.6 410.8,465.8 411.6,464.1 413.3,463.3 414.1,461.5 416.4,461.3 417.9,459.6 419.6,459.6 420.7,458.3 422.4,458.2 423.5,456.9 425.4,456.5 426.6,455.1 428.4,454.7 429.5,453.2 431.4,452.8 432.9,451.2 435.0,450.8 436.5,449.8 438.2,450.3 439.6,449.2 441.6,449.2 442.9,447.8 444.8,448.1 446.3,447.0 448.0,447.4 449.5,446.2 451.3,446.7 452.9,445.8 454.8,446.2 456.4,445.1 458.3,445.5 460.0,444.7 461.6,445.4 463.1,444.5 464.6,445.2 466.1,444.6 467.7,445.1 469.2,444.5 470.8,445.2 472.3,444.4 473.9,444.9 475.4,444.1 476.9,445.0 478.5,444.2 480.0,445.0 481.6,444.1 483.1,444.9 484.7,444.1 486.2,445.0 487.8,444.1 489.3,445.0 490.9,444.2 492.4,444.9 494.0,444.1 495.5,444.9 497.1,444.1 498.6,445.0 500.2,444.1 501.7,444.8 503.3,444.5" fill="none" stroke="#000" stroke-width="1.3" stroke-linejoin="round" stroke-linecap="round" />
<circle cx="384.3" cy="567.1" r="1.1" fill="#000"/>
<circle cx="402.3" cy="550.8" r="1.1" fill="#000"/>
<circle cx="417.1" cy="527" r="1.1" fill="#000"/>
<circle cx="428.4" cy="519" r="1.1" fill="#000"/>
<circle cx="437.8" cy="519.2" r="1.1" fill="#000"/>
<circle cx="446" cy="505.3" r="1.1" fill="#000"/>
<circle cx="453.3" cy="502.5" r="1.1" fill="#000"/>
<circle cx="459.8" cy="494" r="1.1" fill="#000"/>
<circle cx="465.8" cy="487" r="1.1" fill="#000"/>
<circle cx="471.1" cy="483" r="1.1" fill="#000"/>
<circle cx="475.9" cy="476.1" r="1.1" fill="#000"/>
<circle cx="480.5" cy="470.2" r="1.1" fill="#000"/>
<circle cx="484.6" cy="465.4" r="1.1" fill="#000"/>
<circle cx="488.7" cy="461.3" r="1.1" fill="#000"/>
<circle cx="363.4" cy="461.9" r="0.7" fill="#000"/>
<circle cx="363.4" cy="497.4" r="0.7" fill="#000"/>
<polygon points="251.2,232.5 258.0,230.5 274.6,225.2 291.9,219.2 312.7,213.8 330.0,211.2 343.8,208.5 370.8,206.6 400.8,206.0 428.5,207.0 431.0,209.5 429.5,210.0 401.2,212.8 372.5,215.6 343.8,218.8 315.5,227.5 287.0,240.8 258.2,272.5 251.2,271.3" fill="url(#dp)" stroke="none"/>
<polyline points="258.2,272.5 287.0,240.8 315.5,227.5 343.8,218.8 372.5,215.6 401.2,212.8 429.5,210.0 458.3,208.7 486.5,207.8" fill="none" stroke="#000" stroke-width="1.4" stroke-linejoin="round" stroke-linecap="round" />
<polyline points="258.2,305.0 287.0,260.0 315.5,241.2 343.8,231.2 372.5,225.0 401.2,220.5 429.5,217.0 458.3,214.9 486.5,213.2" fill="none" stroke="#000" stroke-width="1.3" stroke-linejoin="round" stroke-linecap="round" />
<circle cx="258.25" cy="272.5" r="1.6" fill="#000"/>
<circle cx="287" cy="240.75" r="1.6" fill="#000"/>
<circle cx="315.5" cy="227.5" r="1.6" fill="#000"/>
<circle cx="343.75" cy="218.75" r="1.6" fill="#000"/>
<circle cx="372.5" cy="215.6" r="1.6" fill="#000"/>
<circle cx="401.2" cy="212.8" r="1.6" fill="#000"/>
<circle cx="429.5" cy="210" r="1.6" fill="#000"/>
<circle cx="458.3" cy="208.7" r="1.6" fill="#000"/>
<circle cx="486.5" cy="207.8" r="1.6" fill="#000"/>
<circle cx="258.25" cy="305" r="1.4" fill="#000"/>
<circle cx="287" cy="260" r="1.4" fill="#000"/>
<circle cx="315.5" cy="241.25" r="1.4" fill="#000"/>
<circle cx="343.75" cy="231.25" r="1.4" fill="#000"/>
<circle cx="372.5" cy="225" r="1.4" fill="#000"/>
<circle cx="401.2" cy="220.5" r="1.4" fill="#000"/>
<circle cx="429.5" cy="217" r="1.4" fill="#000"/>
<circle cx="458.3" cy="214.9" r="1.4" fill="#000"/>
<circle cx="486.5" cy="213.2" r="1.4" fill="#000"/>
<rect x="372" y="191.2" width="18.4" height="19.2" fill="none" stroke="#000" stroke-width="1.3"/>
<rect x="381.3" y="227.6" width="29" height="21" fill="none" stroke="#000" stroke-width="1.3"/>
<line x1="379.8" y1="210.4" x2="379.8" y2="214.8" stroke="#000" stroke-width="1.3"/>
<line x1="393.7" y1="220.8" x2="393.7" y2="227.6" stroke="#000" stroke-width="1.3"/>
<polyline points="117.2,122.6 128.5,129.3 258.2,235.6" fill="none" stroke="#111" stroke-width="1.0" stroke-linejoin="round" stroke-linecap="round" />
<line x1="157.6" y1="109.8" x2="258.25" y2="218.6" stroke="#111" stroke-width="1.0"/>
<line x1="284.3" y1="69.3" x2="343.75" y2="199.6" stroke="#111" stroke-width="1.0"/>
<line x1="486.5" y1="40.8" x2="486.5" y2="200.3" stroke="#111" stroke-width="1.0"/>
<line x1="100.4" y1="290.9" x2="258.25" y2="291.1" stroke="#666" stroke-width="1.3"/>
<line x1="153.6" y1="455.5" x2="343.75" y2="218.75" stroke="#111" stroke-width="1.0"/>
<line x1="279.7" y1="465.4" x2="343.75" y2="236.9" stroke="#111" stroke-width="1.0"/>
<line x1="426.5" y1="455.3" x2="486.5" y2="218.3" stroke="#111" stroke-width="1.0"/>
<circle cx="117.2" cy="122.6" r="3.0" fill="none" stroke="#000" stroke-width="1.6"/>
<circle cx="157.6" cy="109.8" r="3.0" fill="none" stroke="#000" stroke-width="1.6"/>
<rect x="125.5" y="126.30000000000001" width="6" height="6" fill="none" stroke="#000" stroke-width="1.2"/>
<circle cx="284.3" cy="69.3" r="3.0" fill="none" stroke="#000" stroke-width="1.6"/>
<circle cx="487" cy="40.8" r="3.0" fill="none" stroke="#000" stroke-width="1.6"/>
<rect x="483.2" y="64.39999999999999" width="6.4" height="6.4" fill="none" stroke="#000" stroke-width="1.2"/>
<circle cx="100.4" cy="290.9" r="3.0" fill="none" stroke="#000" stroke-width="1.6"/>
<rect x="121.0" y="287.6" width="6" height="6" fill="none" stroke="#000" stroke-width="1.2"/>
<circle cx="153.6" cy="455.2" r="3.0" fill="none" stroke="#000" stroke-width="1.6"/>
<rect x="142.5" y="462.3" width="6" height="6" fill="none" stroke="#000" stroke-width="1.2"/>
<circle cx="285.4" cy="447" r="3.0" fill="none" stroke="#000" stroke-width="1.6"/>
<rect x="276.7" y="462.4" width="6" height="6" fill="none" stroke="#000" stroke-width="1.2"/>
<circle cx="428.9" cy="443.3" r="3.0" fill="none" stroke="#000" stroke-width="1.6"/>
<rect x="423.5" y="452.3" width="6" height="6" fill="none" stroke="#000" stroke-width="1.2"/>
<circle cx="258.25" cy="218.6" r="3.0" fill="#fff" stroke="#000" stroke-width="1.4"/>
<circle cx="258.25" cy="235.6" r="3.0" fill="#fff" stroke="#000" stroke-width="1.4"/>
<circle cx="258.25" cy="291.1" r="3.0" fill="#fff" stroke="#000" stroke-width="1.4"/>
<circle cx="343.75" cy="199.6" r="3.0" fill="#fff" stroke="#000" stroke-width="1.4"/>
<circle cx="343.75" cy="218.75" r="3.0" fill="#fff" stroke="#000" stroke-width="1.4"/>
<circle cx="343.75" cy="236.9" r="3.0" fill="#fff" stroke="#000" stroke-width="1.4"/>
<circle cx="486.5" cy="200.3" r="3.0" fill="#fff" stroke="#000" stroke-width="1.4"/>
<circle cx="486.5" cy="218.5" r="3.0" fill="#fff" stroke="#000" stroke-width="1.4"/>
<circle cx="343.75" cy="218.75" r="1.8" fill="#000"/>
<text x="1.31" y="18.10" font-size="18.03" font-family='"Liberation Serif", serif' font-weight="normal" fill="#000" textLength="13.22" lengthAdjust="spacingAndGlyphs" stroke="#000" stroke-width="0.3">10</text>
<text x="14.66" y="12.70" font-size="14.15" font-family='"Liberation Serif", serif' font-weight="normal" fill="#000" textLength="5.98" lengthAdjust="spacingAndGlyphs" stroke="#000" stroke-width="0.3">4</text>
<text x="1.31" y="52.80" font-size="18.03" font-family='"Liberation Serif", serif' font-weight="normal" fill="#000" textLength="13.22" lengthAdjust="spacingAndGlyphs" stroke="#000" stroke-width="0.3">10</text>
<text x="14.23" y="47.40" font-size="14.15" font-family='"Liberation Serif", serif' font-weight="normal" fill="#000" textLength="6.71" lengthAdjust="spacingAndGlyphs" stroke="#000" stroke-width="0.3">3</text>
<text x="1.31" y="88.40" font-size="18.03" font-family='"Liberation Serif", serif' font-weight="normal" fill="#000" textLength="13.22" lengthAdjust="spacingAndGlyphs" stroke="#000" stroke-width="0.3">10</text>
<text x="14.35" y="83.00" font-size="14.15" font-family='"Liberation Serif", serif' font-weight="normal" fill="#000" textLength="6.87" lengthAdjust="spacingAndGlyphs" stroke="#000" stroke-width="0.3">2</text>
<text x="1.31" y="123.80" font-size="18.03" font-family='"Liberation Serif", serif' font-weight="normal" fill="#000" textLength="13.22" lengthAdjust="spacingAndGlyphs" stroke="#000" stroke-width="0.3">10</text>
<text x="15.33" y="118.40" font-size="14.55" font-family='"Liberation Serif", serif' font-weight="normal" fill="#000" textLength="4.29" lengthAdjust="spacingAndGlyphs" stroke="#000" stroke-width="0.3">1</text>
<text x="31.84" y="18.50" font-size="18.92" font-family='"Liberation Serif", serif' font-weight="normal" fill="#000" textLength="73.64" lengthAdjust="spacingAndGlyphs" stroke="#000" stroke-width="0.3">Incidence</text>
<text x="105.00" y="18.80" font-size="18.92" font-family='"Liberation Serif", serif' font-weight="normal" fill="#000" textLength="5.76" lengthAdjust="spacingAndGlyphs" stroke="#000" stroke-width="0.3">/</text>
<text x="109.76" y="18.50" font-size="18.18" font-family='"Liberation Serif", serif' font-weight="normal" fill="#000" textLength="19.31" lengthAdjust="spacingAndGlyphs" stroke="#000" stroke-width="0.3">10</text>
<text x="128.65" y="13.90" font-size="17.54" font-family='"Liberation Serif", serif' font-weight="normal" fill="#000" textLength="9.62" lengthAdjust="spacingAndGlyphs" stroke="#000" stroke-width="0.3">7</text>
<text x="140.30" y="18.50" font-size="18.92" font-family='"Liberation Serif", serif' font-weight="normal" fill="#000" textLength="39.87" lengthAdjust="spacingAndGlyphs" stroke="#000" stroke-width="0.3">/year</text>
<text x="35.40" y="42.80" font-size="25.94" font-family='"Liberation Sans", sans-serif' font-weight="bold" fill="#000" textLength="19.26" lengthAdjust="spacingAndGlyphs" >A</text>
<text x="207.48" y="42.80" font-size="25.94" font-family='"Liberation Sans", sans-serif' font-weight="bold" fill="#000" textLength="17.76" lengthAdjust="spacingAndGlyphs" >B</text>
<text x="373.32" y="42.80" font-size="25.94" font-family='"Liberation Sans", sans-serif' font-weight="bold" fill="#000" textLength="17.67" lengthAdjust="spacingAndGlyphs" >C</text>
<text x="1.31" y="226.10" font-size="18.03" font-family='"Liberation Serif", serif' font-weight="normal" fill="#000" textLength="13.22" lengthAdjust="spacingAndGlyphs" stroke="#000" stroke-width="0.3">10</text>
<text x="14.66" y="220.70" font-size="14.15" font-family='"Liberation Serif", serif' font-weight="normal" fill="#000" textLength="5.98" lengthAdjust="spacingAndGlyphs" stroke="#000" stroke-width="0.3">4</text>
<text x="1.31" y="261.80" font-size="18.03" font-family='"Liberation Serif", serif' font-weight="normal" fill="#000" textLength="13.22" lengthAdjust="spacingAndGlyphs" stroke="#000" stroke-width="0.3">10</text>
<text x="14.23" y="256.40" font-size="14.15" font-family='"Liberation Serif", serif' font-weight="normal" fill="#000" textLength="6.71" lengthAdjust="spacingAndGlyphs" stroke="#000" stroke-width="0.3">3</text>
<text x="1.31" y="296.90" font-size="18.03" font-family='"Liberation Serif", serif' font-weight="normal" fill="#000" textLength="13.22" lengthAdjust="spacingAndGlyphs" stroke="#000" stroke-width="0.3">10</text>
<text x="14.35" y="291.50" font-size="14.15" font-family='"Liberation Serif", serif' font-weight="normal" fill="#000" textLength="6.87" lengthAdjust="spacingAndGlyphs" stroke="#000" stroke-width="0.3">2</text>
<text x="1.31" y="332.30" font-size="18.03" font-family='"Liberation Serif", serif' font-weight="normal" fill="#000" textLength="13.22" lengthAdjust="spacingAndGlyphs" stroke="#000" stroke-width="0.3">10</text>
<text x="15.33" y="326.90" font-size="14.55" font-family='"Liberation Serif", serif' font-weight="normal" fill="#000" textLength="4.29" lengthAdjust="spacingAndGlyphs" stroke="#000" stroke-width="0.3">1</text>
<text x="31.13" y="226.50" font-size="18.92" font-family='"Liberation Serif", serif' font-weight="normal" fill="#000" textLength="74.36" lengthAdjust="spacingAndGlyphs" stroke="#000" stroke-width="0.3">Incidence</text>
<text x="105.00" y="226.80" font-size="18.92" font-family='"Liberation Serif", serif' font-weight="normal" fill="#000" textLength="5.76" lengthAdjust="spacingAndGlyphs" stroke="#000" stroke-width="0.3">/</text>
<text x="109.76" y="226.50" font-size="18.18" font-family='"Liberation Serif", serif' font-weight="normal" fill="#000" textLength="19.31" lengthAdjust="spacingAndGlyphs" stroke="#000" stroke-width="0.3">10</text>
<text x="128.65" y="221.90" font-size="17.54" font-family='"Liberation Serif", serif' font-weight="normal" fill="#000" textLength="9.62" lengthAdjust="spacingAndGlyphs" stroke="#000" stroke-width="0.3">7</text>
<text x="140.30" y="226.50" font-size="18.92" font-family='"Liberation Serif", serif' font-weight="normal" fill="#000" textLength="39.87" lengthAdjust="spacingAndGlyphs" stroke="#000" stroke-width="0.3">/year</text>
<text x="34.08" y="252.80" font-size="25.94" font-family='"Liberation Sans", sans-serif' font-weight="bold" fill="#000" textLength="17.76" lengthAdjust="spacingAndGlyphs" >D</text>
<text x="1.31" y="435.60" font-size="18.03" font-family='"Liberation Serif", serif' font-weight="normal" fill="#000" textLength="13.22" lengthAdjust="spacingAndGlyphs" stroke="#000" stroke-width="0.3">10</text>
<text x="14.66" y="430.20" font-size="14.15" font-family='"Liberation Serif", serif' font-weight="normal" fill="#000" textLength="5.98" lengthAdjust="spacingAndGlyphs" stroke="#000" stroke-width="0.3">4</text>
<text x="1.31" y="470.80" font-size="18.03" font-family='"Liberation Serif", serif' font-weight="normal" fill="#000" textLength="13.22" lengthAdjust="spacingAndGlyphs" stroke="#000" stroke-width="0.3">10</text>
<text x="14.23" y="465.40" font-size="14.15" font-family='"Liberation Serif", serif' font-weight="normal" fill="#000" textLength="6.71" lengthAdjust="spacingAndGlyphs" stroke="#000" stroke-width="0.3">3</text>
<text x="1.31" y="506.00" font-size="18.03" font-family='"Liberation Serif", serif' font-weight="normal" fill="#000" textLength="13.22" lengthAdjust="spacingAndGlyphs" stroke="#000" stroke-width="0.3">10</text>
<text x="14.35" y="500.60" font-size="14.15" font-family='"Liberation Serif", serif' font-weight="normal" fill="#000" textLength="6.87" lengthAdjust="spacingAndGlyphs" stroke="#000" stroke-width="0.3">2</text>
<text x="1.31" y="541.20" font-size="18.03" font-family='"Liberation Serif", serif' font-weight="normal" fill="#000" textLength="13.22" lengthAdjust="spacingAndGlyphs" stroke="#000" stroke-width="0.3">10</text>
<text x="15.33" y="535.80" font-size="14.55" font-family='"Liberation Serif", serif' font-weight="normal" fill="#000" textLength="4.29" lengthAdjust="spacingAndGlyphs" stroke="#000" stroke-width="0.3">1</text>
<text x="32.45" y="434.00" font-size="18.92" font-family='"Liberation Serif", serif' font-weight="normal" fill="#000" textLength="73.03" lengthAdjust="spacingAndGlyphs" stroke="#000" stroke-width="0.3">Incidence</text>
<text x="105.00" y="434.30" font-size="18.92" font-family='"Liberation Serif", serif' font-weight="normal" fill="#000" textLength="5.76" lengthAdjust="spacingAndGlyphs" stroke="#000" stroke-width="0.3">/</text>
<text x="109.76" y="434.00" font-size="18.18" font-family='"Liberation Serif", serif' font-weight="normal" fill="#000" textLength="19.31" lengthAdjust="spacingAndGlyphs" stroke="#000" stroke-width="0.3">10</text>
<text x="128.65" y="429.40" font-size="17.54" font-family='"Liberation Serif", serif' font-weight="normal" fill="#000" textLength="9.62" lengthAdjust="spacingAndGlyphs" stroke="#000" stroke-width="0.3">7</text>
<text x="140.30" y="434.00" font-size="18.92" font-family='"Liberation Serif", serif' font-weight="normal" fill="#000" textLength="39.87" lengthAdjust="spacingAndGlyphs" stroke="#000" stroke-width="0.3">/year</text>
<text x="34.38" y="473.00" font-size="26.23" font-family='"Liberation Sans", sans-serif' font-weight="bold" fill="#000" textLength="16.44" lengthAdjust="spacingAndGlyphs" >E</text>
<text x="207.01" y="472.80" font-size="25.94" font-family='"Liberation Sans", sans-serif' font-weight="bold" fill="#000" textLength="14.78" lengthAdjust="spacingAndGlyphs" >F</text>
<text x="375.91" y="473.20" font-size="25.94" font-family='"Liberation Sans", sans-serif' font-weight="bold" fill="#000" textLength="19.22" lengthAdjust="spacingAndGlyphs" >G</text>
<text x="18.26" y="589.70" font-size="19.39" font-family='"Liberation Serif", serif' font-weight="normal" fill="#000" textLength="13.79" lengthAdjust="spacingAndGlyphs" stroke="#000" stroke-width="0.3">10</text>
<text x="62.53" y="589.70" font-size="19.69" font-family='"Liberation Serif", serif' font-weight="normal" fill="#000" textLength="14.24" lengthAdjust="spacingAndGlyphs" stroke="#000" stroke-width="0.3">20</text>
<text x="109.69" y="589.70" font-size="19.69" font-family='"Liberation Serif", serif' font-weight="normal" fill="#000" textLength="15.53" lengthAdjust="spacingAndGlyphs" stroke="#000" stroke-width="0.3">40</text>
<text x="132.50" y="589.70" font-size="19.69" font-family='"Liberation Serif", serif' font-weight="normal" fill="#000" textLength="15.00" lengthAdjust="spacingAndGlyphs" stroke="#000" stroke-width="0.3">60</text>
<text x="158.04" y="589.70" font-size="19.39" font-family='"Liberation Serif", serif' font-weight="normal" fill="#000" textLength="19.38" lengthAdjust="spacingAndGlyphs" stroke="#000" stroke-width="0.3">100</text>
<text x="194.13" y="589.70" font-size="19.39" font-family='"Liberation Serif", serif' font-weight="normal" fill="#000" textLength="14.14" lengthAdjust="spacingAndGlyphs" stroke="#000" stroke-width="0.3">10</text>
<text x="238.35" y="589.70" font-size="19.69" font-family='"Liberation Serif", serif' font-weight="normal" fill="#000" textLength="13.70" lengthAdjust="spacingAndGlyphs" stroke="#000" stroke-width="0.3">20</text>
<text x="285.51" y="589.70" font-size="19.69" font-family='"Liberation Serif", serif' font-weight="normal" fill="#000" textLength="14.68" lengthAdjust="spacingAndGlyphs" stroke="#000" stroke-width="0.3">40</text>
<text x="307.92" y="589.70" font-size="19.69" font-family='"Liberation Serif", serif' font-weight="normal" fill="#000" textLength="14.57" lengthAdjust="spacingAndGlyphs" stroke="#000" stroke-width="0.3">60</text>
<text x="333.04" y="589.70" font-size="19.39" font-family='"Liberation Serif", serif' font-weight="normal" fill="#000" textLength="19.38" lengthAdjust="spacingAndGlyphs" stroke="#000" stroke-width="0.3">100</text>
<text x="358.40" y="589.70" font-size="19.39" font-family='"Liberation Serif", serif' font-weight="normal" fill="#000" textLength="13.33" lengthAdjust="spacingAndGlyphs" stroke="#000" stroke-width="0.3">10</text>
<text x="402.13" y="589.70" font-size="19.69" font-family='"Liberation Serif", serif' font-weight="normal" fill="#000" textLength="14.24" lengthAdjust="spacingAndGlyphs" stroke="#000" stroke-width="0.3">20</text>
<text x="449.70" y="589.70" font-size="19.69" font-family='"Liberation Serif", serif' font-weight="normal" fill="#000" textLength="15.21" lengthAdjust="spacingAndGlyphs" stroke="#000" stroke-width="0.3">40</text>
<text x="472.51" y="589.70" font-size="19.69" font-family='"Liberation Serif", serif' font-weight="normal" fill="#000" textLength="14.67" lengthAdjust="spacingAndGlyphs" stroke="#000" stroke-width="0.3">60</text>
<text x="498.04" y="589.70" font-size="19.39" font-family='"Liberation Serif", serif' font-weight="normal" fill="#000" textLength="19.38" lengthAdjust="spacingAndGlyphs" stroke="#000" stroke-width="0.3">100</text>
<text x="75.21" y="608.30" font-size="18.64" font-family='"Liberation Serif", serif' font-weight="normal" fill="#000" textLength="54.10" lengthAdjust="spacingAndGlyphs" stroke="#000" stroke-width="0.3">Age,&#160;&#160;y</text>
<text x="247.52" y="608.50" font-size="18.64" font-family='"Liberation Serif", serif' font-weight="normal" fill="#000" textLength="52.99" lengthAdjust="spacingAndGlyphs" stroke="#000" stroke-width="0.3">Age,&#160;&#160;y</text>
<text x="410.21" y="608.50" font-size="18.64" font-family='"Liberation Serif", serif' font-weight="normal" fill="#000" textLength="54.50" lengthAdjust="spacingAndGlyphs" stroke="#000" stroke-width="0.3">Age,&#160;&#160;y</text>
<text x="199.12" y="186.40" font-size="20.62" font-family='"Liberation Serif", serif' font-weight="bold" fill="#000" textLength="228.39" lengthAdjust="spacingAndGlyphs" >Stem-cell loss/division ratio</text>
<text x="238.32" y="421.30" font-size="21.54" font-family='"Liberation Serif", serif' font-weight="bold" fill="#000" textLength="77.63" lengthAdjust="spacingAndGlyphs" >Stem-cell</text>
<text x="325.03" y="421.00" font-size="19.57" font-family='"Liberation Serif", serif' font-weight="bold" fill="#000" textLength="112.84" lengthAdjust="spacingAndGlyphs" >divisions/year</text>
<text x="182.86" y="207.60" font-size="18.48" font-family='"Liberation Serif", serif' font-weight="bold" fill="#000" textLength="6.49" lengthAdjust="spacingAndGlyphs" stroke="#000" stroke-width="0.6">1</text>
<text x="175.95" y="243.80" font-size="19.54" font-family='"Liberation Serif", serif' font-weight="bold" fill="#000" textLength="15.90" lengthAdjust="spacingAndGlyphs" >0.</text>
<text x="176.00" y="280.70" font-size="20.31" font-family='"Liberation Serif", serif' font-weight="bold" fill="#000" textLength="25.11" lengthAdjust="spacingAndGlyphs" >0.6</text>
<text x="175.95" y="317.20" font-size="20.31" font-family='"Liberation Serif", serif' font-weight="bold" fill="#000" textLength="15.90" lengthAdjust="spacingAndGlyphs" >0.</text>
<text x="175.99" y="353.60" font-size="20.31" font-family='"Liberation Serif", serif' font-weight="bold" fill="#000" textLength="25.32" lengthAdjust="spacingAndGlyphs" >0.2</text>
<text x="180.81" y="389.70" font-size="20.31" font-family='"Liberation Serif", serif' font-weight="bold" fill="#000" textLength="11.07" lengthAdjust="spacingAndGlyphs" >0</text>
<text x="199.67" y="402.50" font-size="20.00" font-family='"Liberation Serif", serif' font-weight="bold" fill="#000" textLength="9.17" lengthAdjust="spacingAndGlyphs" >0</text>
<text x="247.23" y="402.50" font-size="20.00" font-family='"Liberation Serif", serif' font-weight="bold" fill="#000" textLength="16.34" lengthAdjust="spacingAndGlyphs" >0.</text>
<text x="302.88" y="402.50" font-size="20.00" font-family='"Liberation Serif", serif' font-weight="bold" fill="#000" textLength="25.63" lengthAdjust="spacingAndGlyphs" >0.4</text>
<text x="361.52" y="402.50" font-size="20.00" font-family='"Liberation Serif", serif' font-weight="bold" fill="#000" textLength="24.47" lengthAdjust="spacingAndGlyphs" >0.6</text>
<text x="417.91" y="402.50" font-size="20.00" font-family='"Liberation Serif", serif' font-weight="bold" fill="#000" textLength="24.68" lengthAdjust="spacingAndGlyphs" >0.8</text>
<text x="485.93" y="401.60" font-size="18.79" font-family='"Liberation Serif", serif' font-weight="bold" fill="#000" textLength="7.30" lengthAdjust="spacingAndGlyphs" stroke="#000" stroke-width="0.8">1</text>
<text x="372.28" y="206.60" font-size="20.00" font-family='"Liberation Serif", serif' font-weight="normal" fill="#000" textLength="17.93" lengthAdjust="spacingAndGlyphs" stroke="#000" stroke-width="0.1">20</text>
<text x="381.47" y="244.20" font-size="20.15" font-family='"Liberation Serif", serif' font-weight="normal" fill="#000" textLength="28.91" lengthAdjust="spacingAndGlyphs" stroke="#000" stroke-width="0.1">100</text>
</svg>
</body></html>
